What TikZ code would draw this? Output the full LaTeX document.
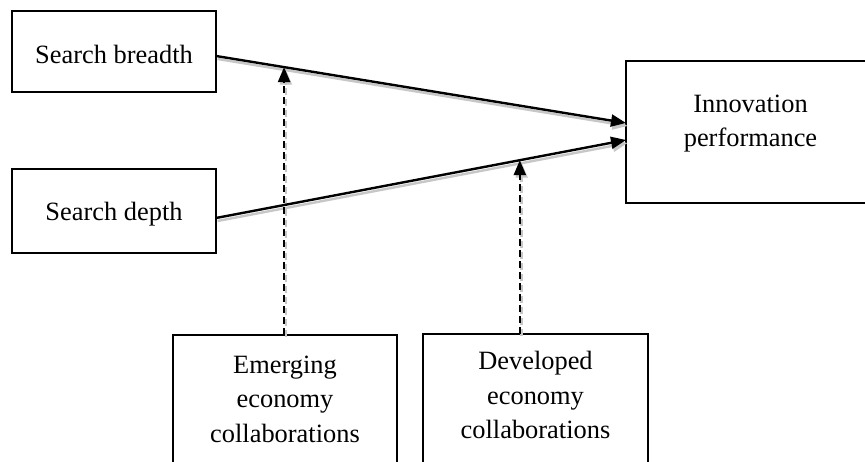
\documentclass[tikz,border=0pt]{standalone}
\usepackage{fontspec}
\setmainfont{Liberation Serif}
\usetikzlibrary{arrows.meta}
\begin{document}
\begin{tikzpicture}[x=1pt,y=1pt,
  box/.style={draw=black,line width=2.6pt,inner sep=0pt,outer sep=0pt},
  lbl/.style={inner sep=0pt,align=center,font=\fontsize{26.4}{34.5}\selectfont,anchor=base},
  link/.style={line width=2.4pt,-{Triangle[length=15pt,width=12pt]}},
  shade/.style={link,draw=black!22,transform canvas={shift={(1.6pt,-3pt)}}},
  modline/.style={line width=2.4pt,dash pattern=on 7pt off 4pt,-{Triangle[length=15pt,width=12pt]}},
  modshade/.style={modline,draw=black!22,transform canvas={shift={(1.8pt,-2.5pt)}}}]
\useasboundingbox (0,0) rectangle (865,462);
\clip (0,0) rectangle (865,462);
\fill[white] (0,0) rectangle (865,462);
% boxes
\node[box,minimum width=204pt,minimum height=81pt] (b) at (114,410.5) {};
\node[box,minimum width=204pt,minimum height=84pt] (d) at (114,251) {};
\node[box,minimum width=248pt,minimum height=142pt] (i) at (750,330) {};
\node[box,minimum width=224pt,minimum height=140pt] (e) at (285,57) {};
\node[box,minimum width=225pt,minimum height=140pt] (v) at (535.5,58) {};
% labels
\node[lbl] (tb) at (114,398.7) {Search breadth};
\node[lbl] (td) at (114,241.3) {Search depth};
\node[lbl] (ti) at (750.5,315) {Innovation\\performance};
\node[lbl] (te) at (285,19.8) {Emerging\\economy\\collaborations};
\node[lbl] (tv) at (535.5,23) {Developed\\economy\\collaborations};
% anchors of connectors
\coordinate (bs) at ([yshift=-4.5pt]b.east);
\coordinate (ds) at ([yshift=-7pt]d.east);
\coordinate (ib) at ([yshift=9pt]i.west);
\coordinate (id) at ([yshift=-8pt]i.west);
\path (bs) -- (ib) coordinate[pos=0.166] (m1);
\path (ds) -- (id) coordinate[pos=0.741] (m2);
% shadows
\draw[shade] (bs) -- (ib);
\draw[shade] (ds) -- (id);
\draw[modshade] (e.north -| m1) -- (m1);
\draw[modshade] (v.north -| m2) -- (m2);
% connectors
\draw[link] (bs) -- (ib);
\draw[link] (ds) -- (id);
\draw[modline] (e.north -| m1) -- (m1);
\draw[modline] (v.north -| m2) -- (m2);
\end{tikzpicture}
\end{document}
